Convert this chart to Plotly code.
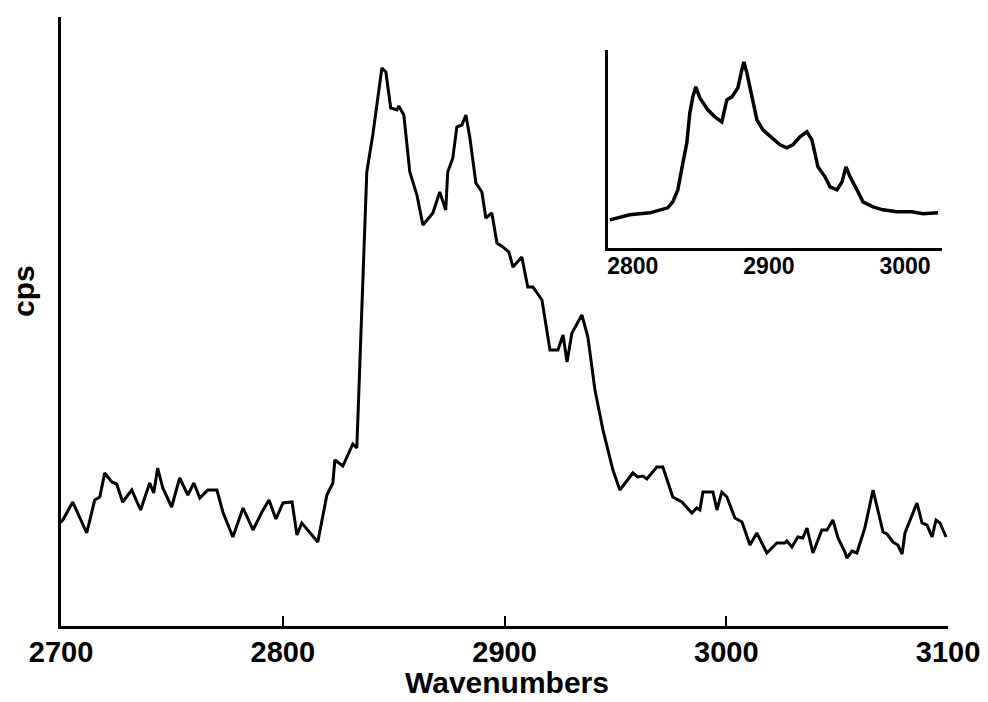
import plotly.graph_objects as go

# Main spectrum (wavenumber, cps in arbitrary units)
main_wn = [2699.4, 2700.8, 2705.3, 2711.6, 2715.2, 2717.5, 2719.7, 2722.9, 2725.1, 2727.8,
           2731.9, 2735.9, 2740.0, 2741.8, 2743.6, 2745.9, 2749.9, 2753.5, 2757.2, 2759.9,
           2762.6, 2766.2, 2770.3, 2773.0, 2777.5, 2782.1, 2786.6, 2790.6, 2793.8, 2796.9,
           2800.1, 2804.2, 2806.4, 2808.6, 2815.8, 2819.9, 2822.6, 2823.5, 2827.1, 2831.6,
           2833.4, 2837.9, 2840.6, 2844.7, 2846.5, 2848.7, 2851.5, 2852.3, 2854.6, 2857.3,
           2860.5, 2863.2, 2867.7, 2870.8, 2873.5, 2874.4, 2876.7, 2878.5, 2880.8, 2882.6,
           2884.4, 2887.1, 2889.8, 2891.6, 2894.3, 2896.6, 2899.3, 2902.0, 2903.8, 2907.8,
           2910.5, 2912.8, 2916.9, 2920.5, 2924.1, 2926.4, 2928.2, 2930.4, 2934.9, 2937.6,
           2940.8, 2944.4, 2948.9, 2952.0, 2957.9, 2960.1, 2962.4, 2964.2, 2968.7, 2971.4,
           2975.9, 2980.0, 2984.5, 2986.7, 2988.1, 2989.5, 2994.0, 2995.8, 2998.0, 3000.3,
           3003.9, 3007.1, 3010.7, 3013.8, 3018.3, 3021.9, 3022.8, 3026.4, 3027.3, 3029.6,
           3032.3, 3034.5, 3036.4, 3039.1, 3041.3, 3043.1, 3045.4, 3048.1, 3050.4, 3053.5,
           3054.4, 3056.7, 3058.9, 3062.5, 3066.2, 3069.3, 3070.7, 3072.5, 3075.2, 3077.4,
           3079.3, 3080.6, 3082.9, 3086.0, 3088.3, 3090.5, 3092.8, 3094.6, 3096.4, 3099.1]
main_cps = [103, 106, 124, 93, 126, 129, 153, 144, 142, 124,
            136, 116, 143, 133, 158, 138, 119, 148, 131, 143,
            128, 136, 136, 114, 89, 118, 96, 114, 126, 107,
            123, 124, 91, 103, 84, 131, 143, 166, 160, 182,
            178, 454, 491, 558, 554, 518, 516, 520, 511, 454,
            431, 401, 413, 434, 416, 454, 468, 499, 501, 511,
            488, 443, 434, 408, 413, 383, 379, 374, 359, 369,
            339, 339, 326, 276, 276, 291, 264, 293, 311, 289,
            236, 196, 156, 136, 153, 149, 150, 147, 159, 159,
            129, 124, 113, 118, 116, 134, 134, 116, 134, 129,
            108, 104, 81, 93, 73, 81, 83, 83, 85, 79,
            89, 88, 98, 73, 86, 96, 96, 106, 88, 74,
            68, 75, 73, 98, 136, 106, 94, 92, 84, 81,
            72, 93, 106, 123, 103, 101, 89, 106, 103, 89]

# Inset spectrum
inset_wn = [2783.1, 2797.8, 2812.5, 2825.7, 2829.4, 2833.1, 2836.8, 2839.7, 2841.9, 2844.1,
            2846.3, 2849.3, 2855.1, 2860.3, 2865.4, 2869.1, 2872.8, 2877.2, 2880.1, 2881.6,
            2883.8, 2887.5, 2891.2, 2895.6, 2902.2, 2908.1, 2913.2, 2917.6, 2922.8, 2927.9,
            2931.6, 2936.0, 2941.2, 2944.9, 2950.0, 2953.7, 2956.6, 2959.6, 2964.7, 2969.1,
            2976.5, 2983.8, 2994.1, 3005.1, 3013.2, 3024.3]
inset_cps = [28, 33, 35, 40, 46, 58, 85, 105, 135, 151,
             161, 150, 138, 131, 126, 148, 151, 160, 178, 186,
             175, 151, 128, 118, 110, 103, 100, 103, 111, 116,
             108, 81, 71, 61, 58, 66, 81, 71, 58, 46,
             41, 38, 36, 36, 34, 35]

main_ticks = [2700, 2800, 2900, 3000, 3100]
inset_ticks = [2800, 2900, 3000]

FONT = "Liberation Sans"

fig = go.Figure()
fig.add_trace(go.Scatter(x=main_wn, y=main_cps, mode="lines",
                         line=dict(color="black", width=3), xaxis="x", yaxis="y",
                         showlegend=False, hoverinfo="skip"))
fig.add_trace(go.Scatter(x=inset_wn, y=inset_cps, mode="lines",
                         line=dict(color="black", width=3.5), xaxis="x2", yaxis="y2",
                         showlegend=False, hoverinfo="skip"))

fig.update_layout(
    width=988, height=702,
    margin=dict(l=61, r=40, t=17, b=76),
    paper_bgcolor="white", plot_bgcolor="white",
    font=dict(family=FONT, color="black"),
    xaxis=dict(range=[2700, 3100], tickvals=main_ticks, ticks="inside", ticklen=10,
               tickwidth=2, tickcolor="black", showline=True, linewidth=3,
               linecolor="black", showgrid=False, zeroline=False,
               automargin=False, ticklabelstandoff=-2,
               tickfont=dict(size=29, family=FONT, weight="bold")),
    yaxis=dict(range=[0, 609], showline=True, linewidth=3, linecolor="black",
               showticklabels=False, ticks="", showgrid=False, zeroline=False,
               automargin=False),
    xaxis2=dict(domain=[0.617, 0.993], anchor="y2", range=[2782, 3027],
                tickvals=inset_ticks, ticks="", showline=True, linewidth=3,
                linecolor="black", showgrid=False, zeroline=False,
                ticklabelstandoff=-4,
                tickfont=dict(size=23, family=FONT, weight="bold")),
    yaxis2=dict(domain=[0.621, 0.946], anchor="x2", range=[0, 198], showline=True,
                linewidth=2.5, linecolor="black", showticklabels=False, ticks="",
                showgrid=False, zeroline=False),
    annotations=[
        dict(text="cps", x=-0.043, y=0.55, xref="paper", yref="paper",
             textangle=-90, showarrow=False,
             font=dict(size=30, family=FONT, weight="bold"),
             xanchor="center", yanchor="middle"),
        dict(text="Wavenumbers", x=0.503, y=-0.122, xref="paper", yref="paper",
             showarrow=False, borderpad=0,
             font=dict(size=30, family=FONT, weight="bold"),
             xanchor="center", yanchor="bottom"),
    ],
)

fig.write_html("out.html")
